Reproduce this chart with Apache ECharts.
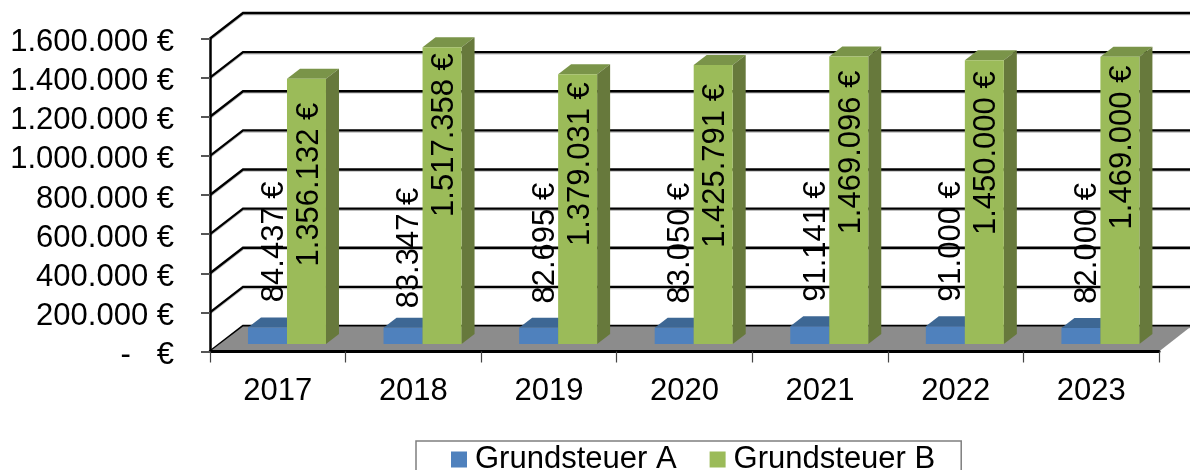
<!DOCTYPE html>
<html>
<head>
<meta charset="utf-8">
<style>html,body{margin:0;padding:0;background:#fff}#c{width:1190px;height:470px}</style>
<script src="https://cdn.jsdelivr.net/npm/echarts@6/dist/echarts.min.js"></script>
</head>
<body>
<div id="c"></div>
<script>
const categories = ['2017','2018','2019','2020','2021','2022','2023'];
const grundsteuerA = [84437, 83347, 82695, 83050, 91141, 91000, 82000];
const grundsteuerB = [1356132, 1517358, 1379031, 1425791, 1469096, 1450000, 1469000];
const wallTicks = [0, 200000, 400000, 600000, 800000, 1000000, 1200000, 1400000, 1600000];

// label placement, in px relative to each bar's top
const nudgeA = [-146, -140, -145, -145, -145, -145, -145];
const nudgeB = [24, 6, 8, 19, 14, 11, 9];

const FONT = '"Liberation Sans", Arial, sans-serif';
const FS = 31;
const WALL = [33, -25.5];    // back wall shift
const DEPTH = [13, -10];     // bar depth
const PLANE = -7.5;          // bars stand this far behind the front edge
const BAR = 39;              // bar width

const euro = v => String(v).replace(/\B(?=(\d{3})+$)/g, '.') + ' €';

function wallItem(params, api) {
  const cs = params.coordSys;
  const y = api.coord([0, api.value(1)])[1];
  const pts = off => [[cs.x, y + off], [cs.x + WALL[0], y + WALL[1] + off], [cs.x + cs.width + WALL[0], y + WALL[1] + off]];
  return { type: 'group', children: [
    { type: 'polyline', shape: { points: pts(1.6) }, style: { stroke: '#bdbdbd', lineWidth: 1.5, fill: null } },
    { type: 'polyline', shape: { points: pts(0) }, style: { stroke: '#000', lineWidth: 2.3, fill: null } }
  ]};
}
function floorItem(params, api) {
  const cs = params.coordSys;
  const y = api.coord([0, 0])[1];
  return { type: 'polygon', shape: { points: [
    [cs.x, y], [cs.x + cs.width, y], [cs.x + cs.width + 32, y - 25], [cs.x + WALL[0], y - 25]
  ]}, style: { fill: '#8c8c8c' } };
}
function barItem(cfg) {
  return function (params, api) {
    const i = api.value(0), v = api.value(1);
    const c = api.coord([i, v]), base = api.coord([i, 0]);
    const x0 = c[0] + cfg.shift, x1 = x0 + BAR;
    const yb = base[1] + PLANE, yt = c[1] + PLANE;
    const dx = DEPTH[0], dy = DEPTH[1];
    return { type: 'group', children: [
      { type: 'polygon', shape: { points: [[x0, yt], [x0 + dx, yt + dy], [x1 + dx, yt + dy], [x1, yt]] }, style: { fill: cfg.top } },
      { type: 'polygon', shape: { points: [[x1, yt], [x1 + dx, yt + dy], [x1 + dx, yb + dy], [x1, yb]] }, style: { fill: cfg.side } },
      { type: 'rect', shape: { x: x0, y: yt, width: BAR, height: yb - yt }, style: { fill: cfg.front } },
      { type: 'text', rotation: Math.PI / 2, x: x0 + BAR / 2 + cfg.labelDx, y: yt + cfg.nudge[params.dataIndex],
        style: { text: euro(v), font: FS + 'px ' + FONT, fill: '#000', align: 'right', verticalAlign: 'middle' } }
    ]};
  };
}
const rows = arr => arr.map((v, i) => [i, v]);

const chart = echarts.init(document.getElementById('c'), null, { renderer: 'canvas' });
chart.setOption({
  animation: false,
  backgroundColor: '#fff',
  grid: { left: 210, top: 38.5, width: 949, height: 313, containLabel: false },
  legend: {
    left: 416, top: 441, orient: 'horizontal',
    padding: [3, 26, 20, 35], itemGap: 33, itemWidth: 16, itemHeight: 16,
    borderColor: '#7f7f7f', borderWidth: 1.5, borderRadius: 0, backgroundColor: '#fff',
    selectedMode: false,
    textStyle: { fontFamily: FONT, fontSize: FS, color: '#000', padding: [0, 0, 0, 3] },
    data: [{ name: 'Grundsteuer A', icon: 'rect' }, { name: 'Grundsteuer B', icon: 'rect' }]
  },
  xAxis: {
    type: 'category', data: categories, boundaryGap: true, z: 6,
    axisLine: { show: true, lineStyle: { color: '#000', width: 3 } },
    axisTick: { show: true, alignWithLabel: false, length: 11, lineStyle: { color: '#444', width: 1.2 } },
    axisLabel: { fontFamily: FONT, fontSize: FS, color: '#000', margin: 24 },
    splitLine: { show: false }
  },
  yAxis: {
    type: 'value', min: 0, max: 1600000, interval: 200000, z: 6,
    axisLine: { show: true, lineStyle: { color: '#000', width: 2.5 } },
    axisTick: { show: true, length: 9, lineStyle: { color: '#555', width: 2 } },
    axisLabel: { fontFamily: FONT, fontSize: FS, color: '#000', margin: 36, verticalAlign: 'top', lineHeight: 8,
      formatter: v => v === 0 ? '-   €' : euro(v) },
    splitLine: { show: false }
  },
  series: [
    { type: 'custom', name: 'wall', z: 1, silent: true, clip: false, renderItem: wallItem, data: rows(wallTicks), encode: { x: 0, y: 1 } },
    { type: 'custom', name: 'floor', z: 2, silent: true, clip: false, renderItem: floorItem, data: [[0, 0]], encode: { x: 0, y: 1 } },
    { type: 'custom', name: 'Grundsteuer A', z: 3, clip: false, itemStyle: { color: '#4f81bd' },
      renderItem: barItem({ shift: -29.8, front: '#4f81bd', top: '#3d6794', side: '#34587f', labelDx: 6.5, nudge: nudgeA }),
      data: rows(grundsteuerA), encode: { x: 0, y: 1 } },
    { type: 'custom', name: 'Grundsteuer B', z: 4, clip: false, itemStyle: { color: '#9bbb59' },
      renderItem: barItem({ shift: 9.2, front: '#9bbb59', top: '#7a9449', side: '#67793c', labelDx: 2.5, nudge: nudgeB }),
      data: rows(grundsteuerB), encode: { x: 0, y: 1 } }
  ]
});
</script>
</body>
</html>
